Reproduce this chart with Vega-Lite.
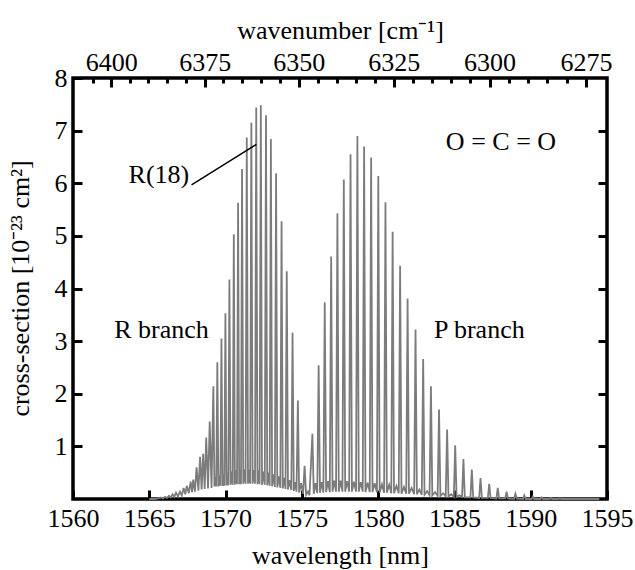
{
  "$schema": "https://vega.github.io/schema/vega-lite/v6.json",
  "width": 534,
  "height": 421,
  "autosize": "none",
  "padding": {"left": 73, "top": 78, "right": 28, "bottom": 71},
  "config": {
    "font": "Liberation Serif",
    "view": {"stroke": "black", "strokeWidth": 3.5},
    "axis": {
      "domain": false,
      "grid": false,
      "labelFont": "Liberation Serif",
      "titleFont": "Liberation Serif",
      "labelFontSize": 26,
      "titleFontSize": 26,
      "titleFontWeight": "normal",
      "labelColor": "black",
      "titleColor": "black",
      "tickColor": "black",
      "tickWidth": 3,
      "labelFlush": false,
      "labelOverlap": false
    }
  },
  "datasets": {
    "spectrum": [
      {"wl": 1565.0, "s": 0},
      {"wl": 1565.3, "s": 0},
      {"wl": 1565.6, "s": 0.01},
      {"wl": 1565.76, "s": 0.03},
      {"wl": 1565.9, "s": 0.01},
      {"wl": 1566.03, "s": 0.04},
      {"wl": 1566.16, "s": 0.02},
      {"wl": 1566.29, "s": 0.06},
      {"wl": 1566.41, "s": 0.03},
      {"wl": 1566.53, "s": 0.09},
      {"wl": 1566.64, "s": 0.04},
      {"wl": 1566.75, "s": 0.12},
      {"wl": 1566.88, "s": 0.05},
      {"wl": 1567.01, "s": 0.14},
      {"wl": 1567.13, "s": 0.07},
      {"wl": 1567.25, "s": 0.21},
      {"wl": 1567.36, "s": 0.09},
      {"wl": 1567.46, "s": 0.25},
      {"wl": 1567.59, "s": 0.11},
      {"wl": 1567.71, "s": 0.33},
      {"wl": 1567.8, "s": 0.13},
      {"wl": 1567.88, "s": 0.37},
      {"wl": 1567.99, "s": 0.14},
      {"wl": 1568.1, "s": 0.6},
      {"wl": 1568.22, "s": 0.16},
      {"wl": 1568.33, "s": 0.8},
      {"wl": 1568.43, "s": 0.18},
      {"wl": 1568.53, "s": 0.86},
      {"wl": 1568.63, "s": 0.19},
      {"wl": 1568.73, "s": 1.17},
      {"wl": 1568.85, "s": 0.2},
      {"wl": 1568.96, "s": 1.47},
      {"wl": 1569.08, "s": 0.21},
      {"wl": 1569.2, "s": 2.14},
      {"wl": 1569.27, "s": 0.24},
      {"wl": 1569.33, "s": 0.42},
      {"wl": 1569.39, "s": 0.24},
      {"wl": 1569.46, "s": 2.6},
      {"wl": 1569.53, "s": 0.24},
      {"wl": 1569.6, "s": 0.45},
      {"wl": 1569.66, "s": 0.25},
      {"wl": 1569.73, "s": 3.05},
      {"wl": 1569.8, "s": 0.25},
      {"wl": 1569.86, "s": 0.47},
      {"wl": 1569.92, "s": 0.25},
      {"wl": 1569.99, "s": 3.53},
      {"wl": 1570.06, "s": 0.26},
      {"wl": 1570.12, "s": 0.5},
      {"wl": 1570.18, "s": 0.26},
      {"wl": 1570.25, "s": 4.17},
      {"wl": 1570.33, "s": 0.27},
      {"wl": 1570.4, "s": 0.52},
      {"wl": 1570.47, "s": 0.27},
      {"wl": 1570.54, "s": 5.03},
      {"wl": 1570.61, "s": 0.27},
      {"wl": 1570.68, "s": 0.55},
      {"wl": 1570.75, "s": 0.28},
      {"wl": 1570.82, "s": 5.63},
      {"wl": 1570.89, "s": 0.28},
      {"wl": 1570.95, "s": 0.55},
      {"wl": 1571.01, "s": 0.28},
      {"wl": 1571.08, "s": 6.27},
      {"wl": 1571.16, "s": 0.29},
      {"wl": 1571.23, "s": 0.56},
      {"wl": 1571.31, "s": 0.29},
      {"wl": 1571.39, "s": 6.87},
      {"wl": 1571.47, "s": 0.29},
      {"wl": 1571.54, "s": 0.56},
      {"wl": 1571.61, "s": 0.29},
      {"wl": 1571.69, "s": 7.15},
      {"wl": 1571.77, "s": 0.29},
      {"wl": 1571.85, "s": 0.55},
      {"wl": 1571.93, "s": 0.29},
      {"wl": 1572.01, "s": 7.44},
      {"wl": 1572.09, "s": 0.28},
      {"wl": 1572.16, "s": 0.54},
      {"wl": 1572.23, "s": 0.28},
      {"wl": 1572.31, "s": 7.48},
      {"wl": 1572.39, "s": 0.27},
      {"wl": 1572.48, "s": 0.52},
      {"wl": 1572.57, "s": 0.27},
      {"wl": 1572.65, "s": 7.29},
      {"wl": 1572.73, "s": 0.26},
      {"wl": 1572.81, "s": 0.5},
      {"wl": 1572.89, "s": 0.25},
      {"wl": 1572.97, "s": 6.84},
      {"wl": 1573.05, "s": 0.24},
      {"wl": 1573.14, "s": 0.47},
      {"wl": 1573.23, "s": 0.23},
      {"wl": 1573.31, "s": 6.19},
      {"wl": 1573.39, "s": 0.22},
      {"wl": 1573.49, "s": 0.43},
      {"wl": 1573.59, "s": 0.21},
      {"wl": 1573.67, "s": 5.28},
      {"wl": 1573.75, "s": 0.2},
      {"wl": 1573.84, "s": 0.4},
      {"wl": 1573.93, "s": 0.19},
      {"wl": 1574.01, "s": 4.33},
      {"wl": 1574.09, "s": 0.18},
      {"wl": 1574.2, "s": 0.36},
      {"wl": 1574.31, "s": 0.17},
      {"wl": 1574.39, "s": 3.16},
      {"wl": 1574.47, "s": 0.15},
      {"wl": 1574.56, "s": 0.32},
      {"wl": 1574.65, "s": 0.14},
      {"wl": 1574.74, "s": 1.87},
      {"wl": 1574.82, "s": 0.12},
      {"wl": 1574.95, "s": 0.3},
      {"wl": 1575.08, "s": 0.1},
      {"wl": 1575.18, "s": 0.63},
      {"wl": 1575.28, "s": 0.08},
      {"wl": 1575.4, "s": 0.14},
      {"wl": 1575.5, "s": 0.07},
      {"wl": 1575.69, "s": 1.24},
      {"wl": 1575.78, "s": 0.1},
      {"wl": 1575.9, "s": 0.3},
      {"wl": 1576.01, "s": 0.11},
      {"wl": 1576.1, "s": 2.54},
      {"wl": 1576.19, "s": 0.12},
      {"wl": 1576.3, "s": 0.32},
      {"wl": 1576.41, "s": 0.12},
      {"wl": 1576.5, "s": 3.74},
      {"wl": 1576.59, "s": 0.13},
      {"wl": 1576.71, "s": 0.34},
      {"wl": 1576.83, "s": 0.13},
      {"wl": 1576.92, "s": 4.61},
      {"wl": 1577.01, "s": 0.14},
      {"wl": 1577.12, "s": 0.35},
      {"wl": 1577.24, "s": 0.14},
      {"wl": 1577.33, "s": 5.43},
      {"wl": 1577.42, "s": 0.14},
      {"wl": 1577.54, "s": 0.35},
      {"wl": 1577.66, "s": 0.14},
      {"wl": 1577.75, "s": 6.07},
      {"wl": 1577.84, "s": 0.14},
      {"wl": 1577.97, "s": 0.34},
      {"wl": 1578.1, "s": 0.14},
      {"wl": 1578.19, "s": 6.55},
      {"wl": 1578.28, "s": 0.14},
      {"wl": 1578.41, "s": 0.33},
      {"wl": 1578.55, "s": 0.14},
      {"wl": 1578.64, "s": 6.9},
      {"wl": 1578.73, "s": 0.14},
      {"wl": 1578.86, "s": 0.32},
      {"wl": 1578.99, "s": 0.14},
      {"wl": 1579.08, "s": 6.7},
      {"wl": 1579.17, "s": 0.13},
      {"wl": 1579.31, "s": 0.31},
      {"wl": 1579.45, "s": 0.13},
      {"wl": 1579.54, "s": 6.49},
      {"wl": 1579.63, "s": 0.13},
      {"wl": 1579.77, "s": 0.3},
      {"wl": 1579.92, "s": 0.13},
      {"wl": 1580.01, "s": 6.14},
      {"wl": 1580.1, "s": 0.12},
      {"wl": 1580.25, "s": 0.28},
      {"wl": 1580.39, "s": 0.12},
      {"wl": 1580.48, "s": 5.64},
      {"wl": 1580.57, "s": 0.12},
      {"wl": 1580.72, "s": 0.27},
      {"wl": 1580.86, "s": 0.11},
      {"wl": 1580.95, "s": 5.08},
      {"wl": 1581.04, "s": 0.11},
      {"wl": 1581.2, "s": 0.25},
      {"wl": 1581.35, "s": 0.11},
      {"wl": 1581.44, "s": 4.43},
      {"wl": 1581.53, "s": 0.1},
      {"wl": 1581.69, "s": 0.23},
      {"wl": 1581.84, "s": 0.1},
      {"wl": 1581.93, "s": 3.81},
      {"wl": 1582.02, "s": 0.1},
      {"wl": 1582.19, "s": 0.21},
      {"wl": 1582.36, "s": 0.09},
      {"wl": 1582.45, "s": 3.22},
      {"wl": 1582.54, "s": 0.09},
      {"wl": 1582.7, "s": 0.18},
      {"wl": 1582.86, "s": 0.08},
      {"wl": 1582.95, "s": 2.66},
      {"wl": 1583.04, "s": 0.08},
      {"wl": 1583.21, "s": 0.15},
      {"wl": 1583.37, "s": 0.07},
      {"wl": 1583.46, "s": 2.14},
      {"wl": 1583.55, "s": 0.07},
      {"wl": 1583.73, "s": 0.13},
      {"wl": 1583.9, "s": 0.06},
      {"wl": 1583.99, "s": 1.7},
      {"wl": 1584.08, "s": 0.06},
      {"wl": 1584.26, "s": 0.11},
      {"wl": 1584.43, "s": 0.05},
      {"wl": 1584.52, "s": 1.32},
      {"wl": 1584.61, "s": 0.05},
      {"wl": 1584.79, "s": 0.09},
      {"wl": 1584.96, "s": 0.04},
      {"wl": 1585.05, "s": 1.02},
      {"wl": 1585.14, "s": 0.04},
      {"wl": 1585.32, "s": 0.07},
      {"wl": 1585.5, "s": 0.04},
      {"wl": 1585.59, "s": 0.76},
      {"wl": 1585.68, "s": 0.03},
      {"wl": 1586.05, "s": 0.03},
      {"wl": 1586.14, "s": 0.56},
      {"wl": 1586.23, "s": 0.03},
      {"wl": 1586.62, "s": 0.02},
      {"wl": 1586.71, "s": 0.4},
      {"wl": 1586.8, "s": 0.02},
      {"wl": 1587.19, "s": 0.02},
      {"wl": 1587.28, "s": 0.29},
      {"wl": 1587.37, "s": 0.02},
      {"wl": 1587.75, "s": 0.01},
      {"wl": 1587.84, "s": 0.21},
      {"wl": 1587.93, "s": 0.01},
      {"wl": 1588.33, "s": 0.01},
      {"wl": 1588.42, "s": 0.14},
      {"wl": 1588.51, "s": 0.01},
      {"wl": 1588.91, "s": 0.005},
      {"wl": 1589.0, "s": 0.1},
      {"wl": 1589.09, "s": 0.005},
      {"wl": 1589.49, "s": 0},
      {"wl": 1589.58, "s": 0.07},
      {"wl": 1589.67, "s": 0},
      {"wl": 1590.05, "s": 0},
      {"wl": 1590.14, "s": 0.045},
      {"wl": 1590.23, "s": 0},
      {"wl": 1590.64, "s": 0},
      {"wl": 1590.73, "s": 0.03},
      {"wl": 1590.82, "s": 0},
      {"wl": 1591.23, "s": 0},
      {"wl": 1591.32, "s": 0.02},
      {"wl": 1591.41, "s": 0},
      {"wl": 1591.82, "s": 0},
      {"wl": 1591.91, "s": 0.012},
      {"wl": 1592.0, "s": 0},
      {"wl": 1594.5, "s": 0}
    ],
    "labels": [
      {"wl": 1565.63, "s": 6.0, "label": "R(18)"},
      {"wl": 1565.8, "s": 3.05, "label": "R branch"},
      {"wl": 1586.63, "s": 3.05, "label": "P branch"},
      {"wl": 1588.05, "s": 6.63, "label": "O = C = O"}
    ],
    "leader": [
      {"wl": 1567.77, "s": 5.97},
      {"wl": 1572.02, "s": 6.74}
    ]
  },
  "layer": [
    {
      "layer": [
        {
          "data": {"name": "spectrum"},
          "mark": {"type": "line", "color": "#7c7c7c", "strokeWidth": 1.8, "interpolate": "linear"},
          "encoding": {
            "x": {
              "field": "wl",
              "type": "quantitative",
              "scale": {"domain": [1560, 1595], "nice": false, "zero": false},
              "axis": {
                "orient": "bottom",
                "values": [1560, 1565, 1570, 1575, 1580, 1585, 1590, 1595],
                "format": "d",
                "tickSize": -9,
                "labelPadding": 15,
                "title": "wavelength [nm]",
                "titleY": 64,
                "titleBaseline": "alphabetic"
              }
            },
            "y": {
              "field": "s",
              "type": "quantitative",
              "scale": {"domain": [0, 8], "nice": false},
              "axis": {
                "orient": "left",
                "values": [1, 2, 3, 4, 5, 6, 7, 8],
                "format": "d",
                "tickSize": -9,
                "labelPadding": 15,
                "title": "cross-section [10⁻²³ cm²]",
                "titleAngle": -90,
                "titleX": -53,
                "titleY": 210,
                "titleAlign": "center",
                "titleBaseline": "middle"
              }
            }
          }
        },
        {
          "data": {"name": "leader"},
          "mark": {"type": "line", "color": "black", "strokeWidth": 1.5},
          "encoding": {
            "x": {"field": "wl", "type": "quantitative"},
            "y": {"field": "s", "type": "quantitative"}
          }
        },
        {
          "data": {"name": "labels"},
          "mark": {"type": "text", "fontSize": 26, "align": "center", "baseline": "alphabetic", "color": "black", "font": "Liberation Serif"},
          "encoding": {
            "x": {"field": "wl", "type": "quantitative"},
            "y": {"field": "s", "type": "quantitative"},
            "text": {"field": "label"}
          }
        }
      ]
    },
    {
      "data": {"name": "spectrum"},
      "mark": {"type": "point", "opacity": 0},
      "encoding": {
        "x": {
          "field": "wl",
          "type": "quantitative",
          "scale": {"domain": [1560, 1595], "nice": false, "zero": false},
          "axis": {
            "orient": "top",
            "values": [1561.2802, 1562.5, 1563.7216, 1564.9452, 1566.1707, 1567.3981, 1568.6275, 1569.8587, 1571.0919, 1572.327, 1573.5641, 1574.8031, 1576.0441, 1577.2871, 1578.532, 1579.7788, 1581.0277, 1582.2785, 1583.5313, 1584.7861, 1586.0428, 1587.3016, 1588.5624, 1589.8251, 1591.0899, 1592.3567, 1593.6255],
            "labelExpr": "round(1e7 / datum.value) % 25 == 0 ? format(round(1e7 / datum.value), 'd') : ''",
            "tickSize": {"condition": {"test": "round(1e7 / datum.value) % 25 == 0", "value": -9}, "value": -5},
            "labelPadding": 12,
            "title": "wavenumber [cm⁻¹]",
            "titleY": -40,
            "titleBaseline": "alphabetic"
          }
        },
        "y": {
          "field": "s",
          "type": "quantitative",
          "scale": {"domain": [0, 8], "nice": false},
          "axis": {
            "orient": "right",
            "values": [1, 2, 3, 4, 5, 6, 7],
            "tickSize": -9,
            "labels": false,
            "title": null
          }
        }
      }
    }
  ],
  "resolve": {
    "scale": {"x": "independent", "y": "independent"},
    "axis": {"x": "independent", "y": "independent"}
  }
}
